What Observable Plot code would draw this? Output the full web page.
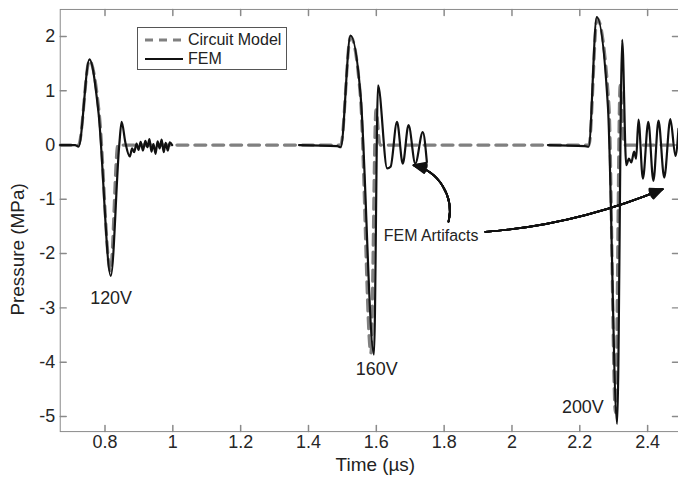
<!DOCTYPE html>
<html>
<head>
<meta charset="utf-8">
<script src="https://cdn.jsdelivr.net/npm/d3@7"></script>
<script src="https://cdn.jsdelivr.net/npm/@observablehq/plot@0.6"></script>
<style>
html, body { margin: 0; padding: 0; background: #fff; overflow: hidden; }
#wrap { position: relative; width: 678px; height: 485px; overflow: hidden; font-family: 'Liberation Sans', Arial, sans-serif; }
#legend { position: absolute; left: 137px; top: 27px; width: 150px; height: 43px; box-sizing: border-box; border: 1px solid #555; background: #fff; }
.row { position: absolute; left: 0; height: 20px; display: flex; align-items: center; font-size: 16px; color: #222; white-space: nowrap; }
.row svg { margin-left: 7px; margin-right: 5px; }
</style>
</head>
<body>
<div id="wrap">
  <div id="chart"></div>
  <div id="legend">
    <div class="row" style="top:2px"><svg width="38" height="6"><line x1="0" y1="3" x2="38" y2="3" stroke="#808080" stroke-width="3" stroke-dasharray="8,6"/></svg><span>Circuit Model</span></div>
    <div class="row" style="top:21px"><svg width="38" height="6"><line x1="0" y1="3" x2="38" y2="3" stroke="#111" stroke-width="2.2"/></svg><span>FEM</span></div>
  </div>
</div>
<script>
// ---- axis ticks ----
const xTicks = [0.8, 1, 1.2, 1.4, 1.6, 1.8, 2, 2.2, 2.4];
const yTicks = [-5, -4, -3, -2, -1, 0, 1, 2];

// ---- Circuit Model (time in µs, pressure in MPa) ----
const circuitTime = [0.668, 0.722, 0.754, 0.783, 0.816, 0.838, 0.845,
  1.495, 1.524, 1.553, 1.584, 1.599, 1.611,
  2.227, 2.251, 2.286, 2.305, 2.319, 2.331, 2.491];
const circuitPressure = [0, 0, 1.56, 0.58, -2.32, 0, 0,
  0, 2.0, 0.9, -3.83, 0.65, 0,
  0, 2.33, 0.72, -4.93, 1.1, 0, 0];

// ---- FEM segments ----
const fem120Time = [0.668, 0.712, 0.722, 0.754, 0.781, 0.817, 0.842, 0.849, 0.860, 0.873,
  0.880, 0.886, 0.893, 0.899, 0.905, 0.912, 0.919, 0.925, 0.931, 0.937,
  0.943, 0.949, 0.955, 0.961, 0.967, 0.973, 0.979, 0.985, 0.991, 0.998];
const fem120Pressure = [0, 0, -0.03, 1.58, 0.59, -2.41, 0, 0.43, 0.05, -0.21,
  -0.06, -0.13, 0.03, -0.09, 0.06, -0.10, 0.08, -0.04, 0.11, -0.12,
  0.02, -0.16, 0.07, -0.06, 0.10, -0.13, 0.04, -0.10, 0.05, 0.0];

const fem160Time = [1.372, 1.485, 1.495, 1.524, 1.554, 1.593, 1.605, 1.632, 1.642,
  1.661, 1.678, 1.695, 1.715, 1.737, 1.749];
const fem160Pressure = [0, -0.02, -0.04, 2.02, 0.89, -3.86, 1.10, -0.43, -0.40,
  0.43, -0.34, 0.37, -0.34, 0.24, -0.31];

const fem200Time = [2.106, 2.215, 2.226, 2.250, 2.283, 2.310, 2.325, 2.337, 2.345, 2.352,
  2.360, 2.366, 2.373, 2.386, 2.402, 2.417, 2.432, 2.449, 2.467, 2.482, 2.491];
const fem200Pressure = [0, -0.02, -0.03, 2.36, 0.70, -5.14, 1.94, -0.37, -0.25, -0.32,
  -0.12, -0.25, 0.47, -0.62, 0.43, -0.66, 0.45, -0.60, 0.48, -0.20, 0.30];

// ---- annotations ----
const voltageLabels = ["120V", "160V", "200V"];
const voltageLabelTime = [0.818, 1.601, 2.209];
const voltageLabelPressure = [-2.82, -4.13, -4.83];
const artifactLabel = ["FEM Artifacts"];
const artifactTime = [1.7615];
const artifactPressure = [-1.67];
const arrowFromTime = [1.813, 1.9215];
const arrowFromPressure = [-1.41, -1.60];
const arrowToTime = [1.710, 2.444];
const arrowToPressure = [-0.37, -0.81];
const arrowBend = [-45, -9];

// ---- build tables ----
const circuit = circuitTime.map((t, i) => ({t, p: circuitPressure[i]}));
const fem = [
  ...fem120Time.map((t, i) => ({t, p: fem120Pressure[i], seg: "120V"})),
  ...fem160Time.map((t, i) => ({t, p: fem160Pressure[i], seg: "160V"})),
  ...fem200Time.map((t, i) => ({t, p: fem200Pressure[i], seg: "200V"}))
];

const axisGray = "#8a8a8a";
const tickShape = {draw(ctx, l) { ctx.moveTo(0, 0); ctx.lineTo(0, -l); }};

// filled-looking arrowheads: overlay wings at several angles
const arrowMarks = [];
for (let k = 0; k < 2; k++) {
  for (const ha of [8, 16, 24, 32, 40, 48]) {
    arrowMarks.push(Plot.arrow([k], {
      x1: () => arrowFromTime[k], y1: () => arrowFromPressure[k],
      x2: () => arrowToTime[k], y2: () => arrowToPressure[k],
      bend: arrowBend[k], stroke: "#111", strokeWidth: 1.8, headLength: 11, headAngle: ha
    }));
  }
}

const chart = Plot.plot({
  width: 681,
  height: 485,
  marginLeft: 60,
  marginRight: 0,
  marginTop: 9,
  marginBottom: 52,
  style: {fontFamily: "'Liberation Sans', Arial, sans-serif", fontSize: "18px", color: "#262626", background: "#fff"},
  x: {domain: [0.668, 2.491]},
  y: {domain: [-5.28, 2.5]},
  marks: [
    Plot.frame({stroke: axisGray}),
    Plot.vector(xTicks, {x: d => d, frameAnchor: "bottom", rotate: 0, length: 6, anchor: "start", shape: tickShape, stroke: axisGray}),
    Plot.vector(xTicks, {x: d => d, frameAnchor: "top", rotate: 180, length: 6, anchor: "start", shape: tickShape, stroke: axisGray}),
    Plot.vector(yTicks, {y: d => d, frameAnchor: "left", rotate: 90, length: 6, anchor: "start", shape: tickShape, stroke: axisGray}),
    Plot.vector(yTicks, {y: d => d, frameAnchor: "right", rotate: -90, length: 6, anchor: "start", shape: tickShape, stroke: axisGray}),
    Plot.axisX(xTicks, {tickSize: 0, tickPadding: 4, tickFormat: d => String(+d.toFixed(1)), label: null, fontSize: 18}),
    Plot.axisY(yTicks, {tickSize: 0, tickPadding: 5, tickFormat: d => String(d), label: null, fontSize: 18}),
    Plot.line(circuit, {x: "t", y: "p", stroke: "#808080", strokeWidth: 3.2, strokeDasharray: "11,7", curve: "monotone-x"}),
    Plot.line(fem, {x: "t", y: "p", z: "seg", stroke: "#111", strokeWidth: 2.2, strokeLinejoin: "round", curve: "monotone-x"}),
    Plot.text(voltageLabels, {x: (d, i) => voltageLabelTime[i], y: (d, i) => voltageLabelPressure[i], text: d => d, fontSize: 18, fill: "#222"}),
    Plot.text(artifactLabel, {x: (d, i) => artifactTime[i], y: (d, i) => artifactPressure[i], text: d => d, fontSize: 16, fill: "#222"}),
    ...arrowMarks,
    Plot.text(["Time (µs)"], {frameAnchor: "bottom", dy: 33, dx: 6, textAnchor: "middle", lineAnchor: "middle", text: d => d, fontSize: 19, fill: "#222"}),
    Plot.text(["Pressure (MPa)"], {frameAnchor: "left", dx: -42, dy: 29, rotate: -90, textAnchor: "middle", lineAnchor: "middle", text: d => d, fontSize: 19, fill: "#222"})
  ]
});
document.getElementById("chart").appendChild(chart);
</script>
</body>
</html>
